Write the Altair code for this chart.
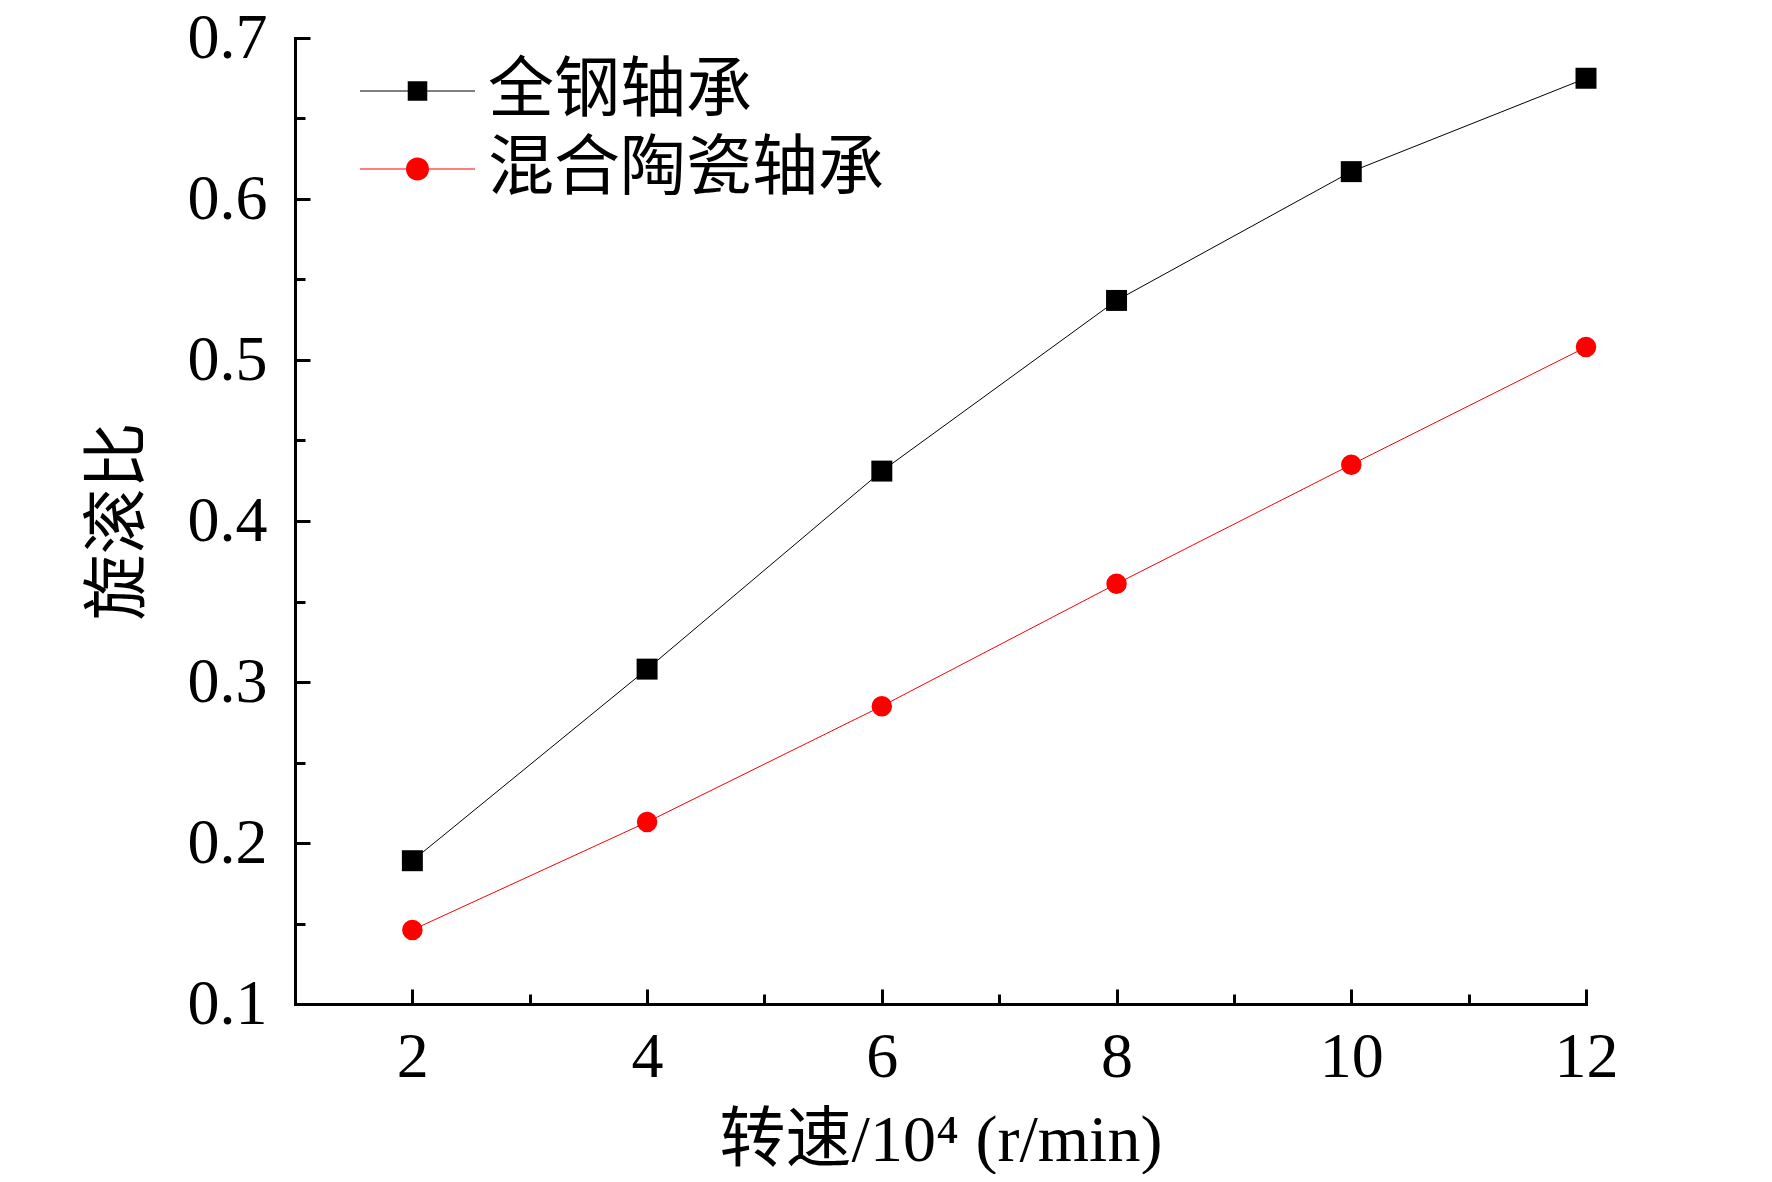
import altair as alt
import pandas as pd

speeds = [2, 4, 6, 8, 10, 12]
steel = [0.189, 0.308, 0.431, 0.537, 0.617, 0.675]
hybrid = [0.146, 0.213, 0.285, 0.361, 0.435, 0.508]
series_names = ["全钢轴承", "混合陶瓷轴承"]
series_colors = ["#000000", "#ff0000"]
x_major = [2, 4, 6, 8, 10, 12]
x_minor = [3, 5, 7, 9, 11]
y_major = [0.1, 0.2, 0.3, 0.4, 0.5, 0.6, 0.7]
y_minor = [0.15, 0.25, 0.35, 0.45, 0.55, 0.65]

rows = []
for s, v in zip(speeds, steel):
    rows.append({"speed": s, "ratio": v, "series": series_names[0]})
for s, v in zip(speeds, hybrid):
    rows.append({"speed": s, "ratio": v, "series": series_names[1]})
df = pd.DataFrame(rows)

W, H = 1291, 966
SERIF = "Liberation Serif, Noto Sans CJK SC"

xscale = alt.Scale(domain=[1, 12], nice=False, zero=False)
yscale = alt.Scale(domain=[0.1, 0.7], nice=False, zero=False)
cscale = alt.Scale(domain=series_names, range=series_colors)

# legend glyphs: thin line segments with marker in the middle (unit square -1..1)
sq_path = ("M-1,-0.009H-0.17V0.009H-1Z M0.17,-0.009H1V0.009H0.17Z "
           "M-0.17,-0.17H0.17V0.17H-0.17Z")
ci_path = ("M-1,-0.009H-0.2V0.009H-1Z M0.2,-0.009H1V0.009H0.2Z "
           "M-0.2,0A0.2,0.2,0,1,1,0.2,0A0.2,0.2,0,1,1,-0.2,0Z")
lscale = alt.Scale(domain=series_names, range=[sq_path, ci_path])

base = alt.Chart(df)

leg = alt.Legend(
    title=None, orient="none", legendX=65, legendY=20, padding=0,
    clipHeight=66, rowPadding=12, labelOffset=13, labelLimit=1000,
    labelFont=SERIF, labelFontSize=66, labelColor="#000000",
    symbolSize=13225, symbolStrokeWidth=0, symbolOpacity=1,
)

legend_layer = base.transform_filter("false").mark_point(
    filled=True, size=13225, opacity=1, strokeWidth=0
).encode(
    x=alt.X("speed:Q", scale=xscale, axis=None),
    y=alt.Y("ratio:Q", scale=yscale, axis=None),
    color=alt.Color("series:N", scale=cscale, legend=leg),
    shape=alt.Shape("series:N", scale=lscale, legend=leg),
)

lines = base.mark_line(strokeWidth=1).encode(
    x=alt.X("speed:Q", scale=xscale,
            axis=alt.Axis(orient="bottom", values=x_major, ticks=False, tickSize=0,
                          domain=False, grid=False, labelPadding=21,
                          labelFlush=False, labelBound=False,
                          title="转速/10⁴ (r/min)", titleY=156,
                          titleBaseline="alphabetic")),
    y=alt.Y("ratio:Q", scale=yscale,
            axis=alt.Axis(orient="left", values=y_major, ticks=False, tickSize=0,
                          domain=False, grid=False, labelPadding=28, format=".1f",
                          labelFlush=False, labelBound=False,
                          title="旋滚比", titleX=-143)),
    color=alt.Color("series:N", scale=cscale, legend=None),
)

squares = base.transform_filter(
    alt.datum.series == series_names[0]
).mark_point(filled=True, size=440, opacity=1, shape="square").encode(
    x=alt.X("speed:Q", scale=xscale,
            axis=alt.Axis(orient="top", offset=-H, values=x_major, tickSize=15,
                          labels=False, domain=True, grid=False, title=None,
                          domainCap="square")),
    y=alt.Y("ratio:Q", scale=yscale,
            axis=alt.Axis(orient="right", offset=-W, values=y_major, tickSize=15,
                          labels=False, domain=True, grid=False, title=None,
                          domainCap="square")),
    color=alt.Color("series:N", scale=cscale, legend=None),
)

circles = base.transform_filter(
    alt.datum.series == series_names[1]
).mark_point(filled=True, size=420, opacity=1, shape="circle").encode(
    x=alt.X("speed:Q", scale=xscale,
            axis=alt.Axis(orient="top", offset=-H, values=x_minor, tickSize=10,
                          labels=False, domain=False, grid=False, title=None)),
    y=alt.Y("ratio:Q", scale=yscale,
            axis=alt.Axis(orient="right", offset=-W, values=y_minor, tickSize=10,
                          labels=False, domain=False, grid=False, title=None)),
    color=alt.Color("series:N", scale=cscale, legend=None),
)

chart = alt.layer(legend_layer, lines, squares, circles).resolve_axis(
    x="independent", y="independent"
).properties(
    width=W, height=H,
    background="white",
    autosize=alt.AutoSizeParams(type="none"),
    padding={"left": 287, "top": 30, "right": 170, "bottom": 170},
).configure_axis(
    labelFont=SERIF, labelFontSize=64, labelColor="#000000",
    labelFlush=False,
    titleFont=SERIF, titleFontSize=66, titleColor="#000000", titleFontWeight="normal",
    domainColor="#000000", domainWidth=3, tickColor="#000000", tickWidth=3,
    grid=False,
).configure_view(stroke=None)

chart.save("out.html", embed_options={"renderer": "svg", "actions": False})
